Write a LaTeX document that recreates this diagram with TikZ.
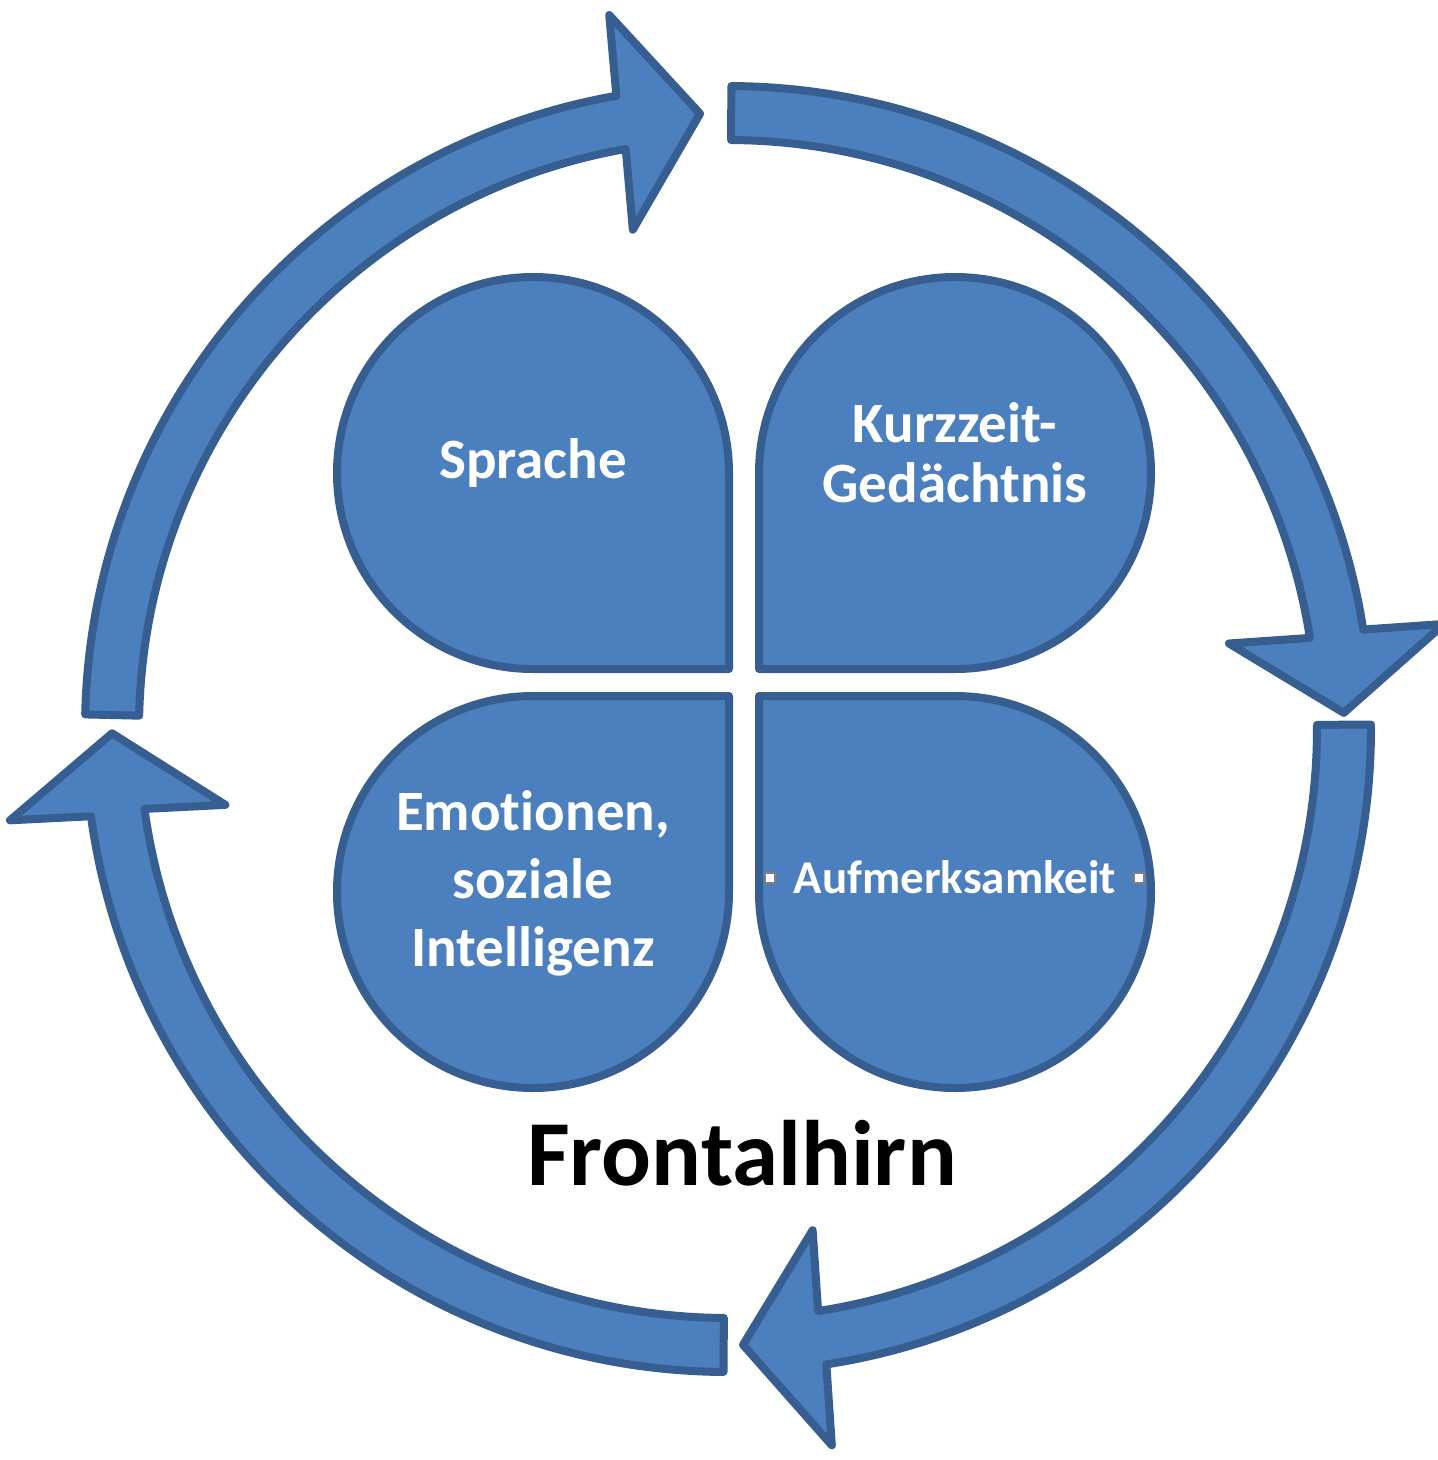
\documentclass[tikz,border=0pt]{standalone}
\usepackage{fontspec}
\setmainfont{Carlito}[Ligatures={NoCommon}]
\usetikzlibrary{calc}
\definecolor{partfill}{HTML}{4B7FBD}
\definecolor{partedge}{HTML}{375E90}

% one curved arrow of the ring: name, tail angle, tip angle (angles clockwise, y down)
\newcommand{\RingArrow}[3]{%
  \pgfmathsetmacro{\RAbase}{#3-7.4}%
  \coordinate (#1-b) at (\RAbase:616);
  \coordinate (#1) at (#3:616);
  \draw[bluepart] (#2:643) arc[start angle=#2, end angle=\RAbase, radius=643]
    -- ($(#1-b)!108pt!90:(#1)$) -- (#1) -- ($(#1-b)!108pt!-90:(#1)$) -- (\RAbase:589)
    arc[start angle=\RAbase, end angle=#2, radius=589] -- cycle;}

\begin{document}
\begin{tikzpicture}[x=1pt,y=-1pt,
  bluepart/.style={fill=partfill, draw=partedge, line width=8pt, line join=round},
  lbl/.style={text=white, font=\bfseries\fontsize{57}{60}\selectfont, inner sep=0pt, anchor=base},
  smalllbl/.style={text=white, font=\bfseries\fontsize{47}{50}\selectfont, inner sep=0pt, anchor=base},
  handle/.style={draw=black!50, fill=white, line width=1.8pt, minimum size=10pt, inner sep=0pt},
  title/.style={text=black, font=\bfseries\fontsize{93}{100}\selectfont, inner sep=0pt, anchor=base}]

\useasboundingbox (0,0) rectangle (1438,1460);
\fill[white] (0,0) rectangle (1438,1460);

% ring of four curved arrows
\begin{scope}[shift={(728,729)}]
  \RingArrow{tipA}{181.3}{267.4}
  \RingArrow{tipB}{270.3}{358.5}
  \RingArrow{tipC}{-0.4}{88.6}
  \RingArrow{tipD}{90.4}{179.6}
\end{scope}

% four petals, each with its square corner towards the middle
\draw[bluepart] (729,669) -- (729,473) arc[start angle=0, end angle=-270, radius=196] -- cycle;
\draw[bluepart] (759,669) -- (759,473) arc[start angle=180, end angle=450, radius=196] -- cycle;
\draw[bluepart] (729,696) -- (533,696) arc[start angle=270, end angle=0, radius=196] -- cycle;
\draw[bluepart] (759,696) -- (955,696) arc[start angle=-90, end angle=180, radius=196] -- cycle;

% petal labels
\node[lbl] (sprache) at (533,478) {Sprache};
\node[lbl] (kurz1) at (955,442) {Kurzzeit-};
\node[lbl] (kurz2) at (955,502) {Gedächtnis};
\node[lbl] (emo1) at (533,830) {Emotionen,};
\node[lbl] (emo2) at (533,898) {soziale};
\node[lbl] (emo3) at (533,966) {Intelligenz};
\node[smalllbl] (aufm) at (955,893) {Aufmerksamkeit};
\node[handle] (hleft) at (770,878) {};
\node[handle] (hright) at (1139,878) {};

% title
\node[title] (front) at (742,1185) {Frontalhirn};
\end{tikzpicture}
\end{document}
